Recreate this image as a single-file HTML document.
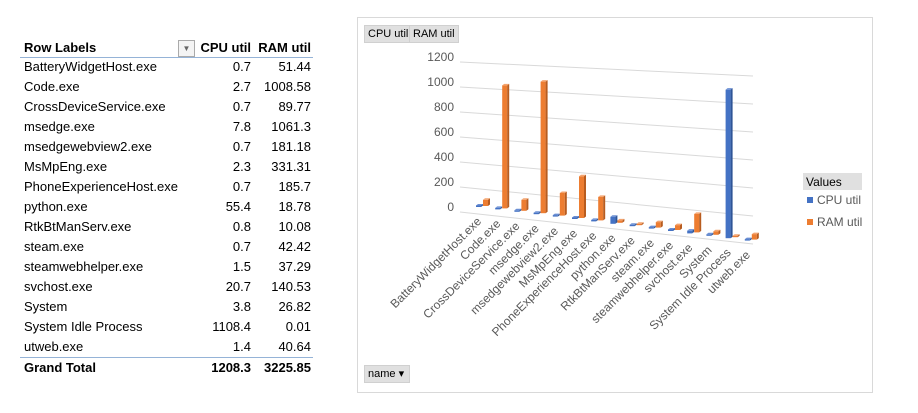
<!DOCTYPE html>
<html><head><meta charset="utf-8"><style>
body{margin:0;width:918px;height:413px;background:#fff;font-family:"Liberation Sans",sans-serif;overflow:hidden;position:relative}
.t{position:absolute;font-size:13px;color:#000}
.btn{position:absolute;background:#e0e0e0;border:1px solid #d0d0d0;font-size:11px;line-height:16px;padding:0 3px;color:#000}
</style></head><body>
<div id="tbl"></div>
<div style="position:absolute;left:357px;top:17px;width:514px;height:374px;border:1px solid #d9d9d9"></div>
<div class="btn" style="left:364px;top:25px">CPU util</div>
<div class="btn" style="left:409px;top:25px">RAM util</div>
<div class="btn" style="left:364px;top:365px;width:38px">name ▾</div>
<svg id="ch" width="918" height="413" style="position:absolute;left:0;top:0"></svg>
<script>
const cats=["BatteryWidgetHost.exe","Code.exe","CrossDeviceService.exe","msedge.exe","msedgewebview2.exe","MsMpEng.exe","PhoneExperienceHost.exe","python.exe","RtkBtManServ.exe","steam.exe","steamwebhelper.exe","svchost.exe","System","System Idle Process","utweb.exe"];
const cpu=[0.7,2.7,0.7,7.8,0.7,2.3,0.7,55.4,0.8,0.7,1.5,20.7,3.8,1108.4,1.4];
const ram=[51.44,1008.58,89.77,1061.3,181.18,331.31,185.7,18.78,10.08,42.42,37.29,140.53,26.82,0.01,40.64];
const cpuTot="1208.3", ramTot="3225.85";
const ticks=[0,200,400,600,800,1000,1200];
const tbl=document.getElementById('tbl');
let h='<div class="t" style="left:24px;top:40px;font-weight:bold">Row Labels</div>';
h+='<div style="position:absolute;left:178px;top:40px;width:15px;height:15px;border:1px solid #aaa;background:#f4f4f4;font-size:8px;color:#666;text-align:center;line-height:15px">▼</div>';
h+='<div class="t" style="left:196px;top:40px;width:55px;text-align:right;font-weight:bold">CPU util</div>';
h+='<div class="t" style="left:250px;top:40px;width:61px;text-align:right;font-weight:bold">RAM util</div>';
h+='<div style="position:absolute;left:20px;top:57px;width:293px;height:1px;background:#95b3d7"></div>';
cats.forEach((c,i)=>{const y=59+i*20;
h+='<div class="t" style="left:24px;top:'+y+'px">'+c+'</div>';
h+='<div class="t" style="left:196px;top:'+y+'px;width:55px;text-align:right">'+cpu[i]+'</div>';
h+='<div class="t" style="left:250px;top:'+y+'px;width:61px;text-align:right">'+ram[i]+'</div>';});
h+='<div style="position:absolute;left:20px;top:357px;width:293px;height:1px;background:#95b3d7"></div>';
h+='<div class="t" style="left:24px;top:360px;font-weight:bold">Grand Total</div>';
h+='<div class="t" style="left:196px;top:360px;width:55px;text-align:right;font-weight:bold">'+cpuTot+'</div>';
h+='<div class="t" style="left:250px;top:360px;width:61px;text-align:right;font-weight:bold">'+ramTot+'</div>';
tbl.innerHTML=h;
const svg=document.getElementById('ch');const NS='http://www.w3.org/2000/svg';
function el(t,a,p){const e=document.createElementNS(NS,t);for(const k in a)e.setAttribute(k,a[k]);(p||svg).appendChild(e);return e;}
const yL=v=>212-v*0.125, yR=v=>244-v*0.14;
ticks.forEach(v=>{
 const l=el('line',{x1:460,y1:yL(v),x2:753,y2:yR(v),stroke:'#d9d9d9','stroke-width':1});
 
 const t=el('text',{x:454,y:yL(v)-1,'text-anchor':'end','font-size':'12','fill':'#595959','font-family':'Liberation Sans'});
 t.textContent=v;
});
const bx=i=>476+i*19.2, by=i=>207+i*2.4, sc=i=>0.121+i*0.001;
function bar(x,y,hgt,front,side,top,name){
 const g=el('g',{});
 const w=5,d=2;
 el('rect',{x:x,y:y-hgt,width:w,height:hgt,fill:front},g);
 el('polygon',{points:`${x+w},${y-hgt} ${x+w+d},${y-hgt-1.5} ${x+w+d},${y-1.5} ${x+w},${y}`,fill:side},g);
 el('polygon',{points:`${x},${y-hgt} ${x+d},${y-hgt-1.5} ${x+w+d},${y-hgt-1.5} ${x+w},${y-hgt}`,fill:top},g);
}
cats.forEach((c,i)=>{
 const x=bx(i),y=by(i),s=sc(i);
 bar(x,y,Math.max(1.5,cpu[i]*s),'#4472c4','#2f5597','#6b8fd4','bar-cpu-util');
 bar(x+7,y-1,Math.max(1.5,ram[i]*s),'#ed7d31','#b85c1f','#f4a46f','bar-ram-util');
 const t=el('text',{x:0,y:0,'text-anchor':'end','font-size':'12','fill':'#595959','font-family':'Liberation Sans',transform:`translate(${x+6},${y+15}) rotate(-45)`});
 t.textContent=c;
});
const lg=el('g',{});
el('rect',{x:803,y:173,width:59,height:17,fill:'#e0e0e0'},lg);
const lt=el('text',{x:806,y:186,'font-size':'12','font-family':'Liberation Sans',fill:'#000'},lg);lt.textContent='Values';
[['CPU util','#4472c4',202],['RAM util','#ed7d31',224]].forEach(([n,c,y])=>{
 const g=el('g',{},lg);
 el('rect',{x:807,y:y-5,width:6,height:6,fill:c},g);
 const t=el('text',{x:817,y:y+2,'font-size':'12','font-family':'Liberation Sans',fill:'#595959'},g);t.textContent=n;
});
</script>
</body></html>
